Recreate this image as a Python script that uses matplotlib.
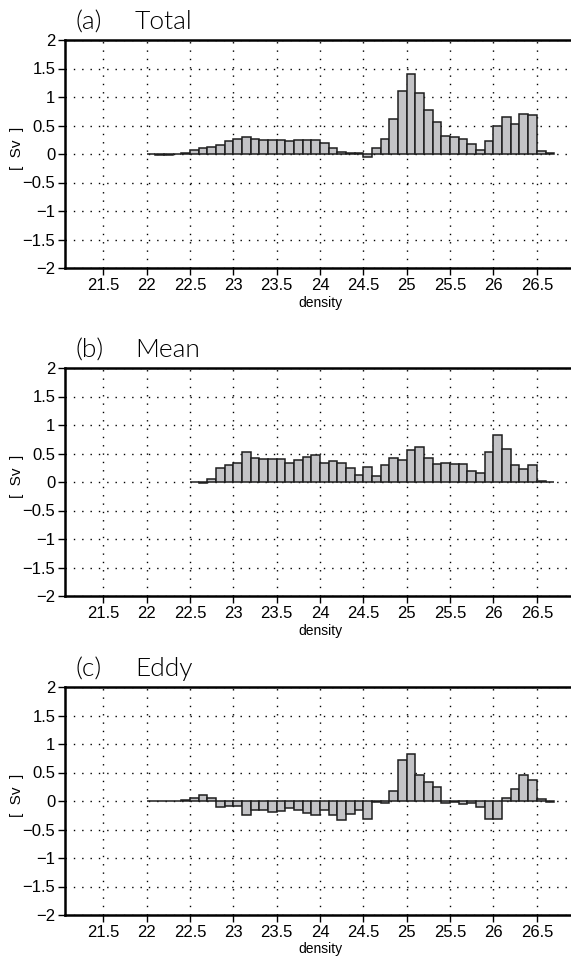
import matplotlib.pyplot as plt
import numpy as np

plt.rcParams['font.family'] = ['Liberation Sans', 'DejaVu Sans']

# left bin edges, 0.1 wide
total_x = np.round(np.arange(22.0, 26.65, 0.1), 2)
total = [0.0, -0.01, -0.01, 0.0, 0.02, 0.07, 0.10, 0.12, 0.15, 0.22,
         0.27, 0.30, 0.27, 0.25, 0.24, 0.24, 0.23, 0.25, 0.25, 0.25,
         0.20, 0.11, 0.03, 0.02, 0.01, -0.06, 0.10, 0.27, 0.61, 1.10,
         1.40, 1.07, 0.77, 0.57, 0.31, 0.29, 0.27, 0.18, 0.07, 0.22,
         0.50, 0.65, 0.52, 0.70, 0.68, 0.06, 0.01]

mean_x = np.round(np.arange(22.5, 26.65, 0.1), 2)
mean = [0.005, -0.02, 0.05, 0.25, 0.29, 0.34, 0.52, 0.42, 0.40, 0.41,
        0.41, 0.34, 0.38, 0.44, 0.47, 0.34, 0.36, 0.34, 0.24, 0.13,
        0.26, 0.11, 0.29, 0.42, 0.38, 0.56, 0.61, 0.42, 0.31, 0.34,
        0.31, 0.31, 0.19, 0.16, 0.53, 0.82, 0.58, 0.29, 0.23, 0.30,
        0.02, 0.0]

eddy_x = np.round(np.arange(22.0, 26.65, 0.1), 2)
eddy = [0.0, 0.0, -0.005, 0.0, 0.02, 0.05, 0.10, 0.05, -0.11, -0.08,
        -0.08, -0.24, -0.16, -0.16, -0.19, -0.17, -0.13, -0.15, -0.21, -0.24,
        -0.16, -0.25, -0.33, -0.22, -0.15, -0.32, -0.02, -0.03, 0.17, 0.72,
        0.83, 0.45, 0.33, 0.25, -0.04, -0.01, -0.05, -0.03, -0.11, -0.32,
        -0.32, 0.05, 0.21, 0.45, 0.37, 0.03, -0.01]

panels = [("(a)", "Total", total_x, total),
          ("(b)", "Mean", mean_x, mean),
          ("(c)", "Eddy", eddy_x, eddy)]

xticks = [21.5, 22, 22.5, 23, 23.5, 24, 24.5, 25, 25.5, 26, 26.5]
xticklabels = ["21.5", "22", "22.5", "23", "23.5", "24", "24.5", "25", "25.5", "26", "26.5"]
yticks = [-2, -1.5, -1, -0.5, 0, 0.5, 1, 1.5, 2]
yticklabels = ["\u22122", "\u22121.5", "\u22121", "\u22120.5", "0", "0.5", "1", "1.5", "2"]

fig = plt.figure(figsize=(5.71, 9.59), dpi=100, facecolor='white')
tops = [40, 368, 687]
H = 228
for (tag, name, x, y), top in zip(panels, tops):
    ax = fig.add_axes([65 / 571, 1 - (top + H) / 959, 510 / 571, H / 959])
    ax.set_xlim(21.06, 26.94)
    ax.set_ylim(-2, 2)
    ax.bar(x, y, width=0.1, align='edge', color='#c3c3c6',
           edgecolor='#1e1e1e', linewidth=1.1, zorder=3)
    ax.set_xticks(xticks)
    ax.set_xticklabels(xticklabels, fontsize=12)
    ax.set_yticks(yticks)
    ax.set_yticklabels(yticklabels, fontsize=12)
    ax.tick_params(direction='out', length=5, width=1.0, pad=2)
    ax.grid(True, color='black', linestyle=(0, (1, 5)), linewidth=1.0, zorder=0)
    for s in ['left', 'top', 'bottom']:
        ax.spines[s].set_linewidth(1.8)
    ax.spines['right'].set_visible(False)
    ax.set_xlabel("density", fontsize=10, labelpad=2)
    fig.text(17 / 571, 1 - (top + H / 2 - 6) / 959, "[  Sv  ]", fontsize=11,
             rotation=90, ha='center', va='center')
    ax.text(0.02, 1.025, tag, transform=ax.transAxes, fontsize=19,
            family=['Lato', 'DejaVu Sans'], fontweight=300, color='black',
            ha='left', va='bottom')
    ax.text(0.137, 1.025, name, transform=ax.transAxes, fontsize=19,
            family=['Lato', 'DejaVu Sans'], fontweight=300, color='black',
            ha='left', va='bottom')

fig.savefig("out.png", dpi=100, facecolor='white')
